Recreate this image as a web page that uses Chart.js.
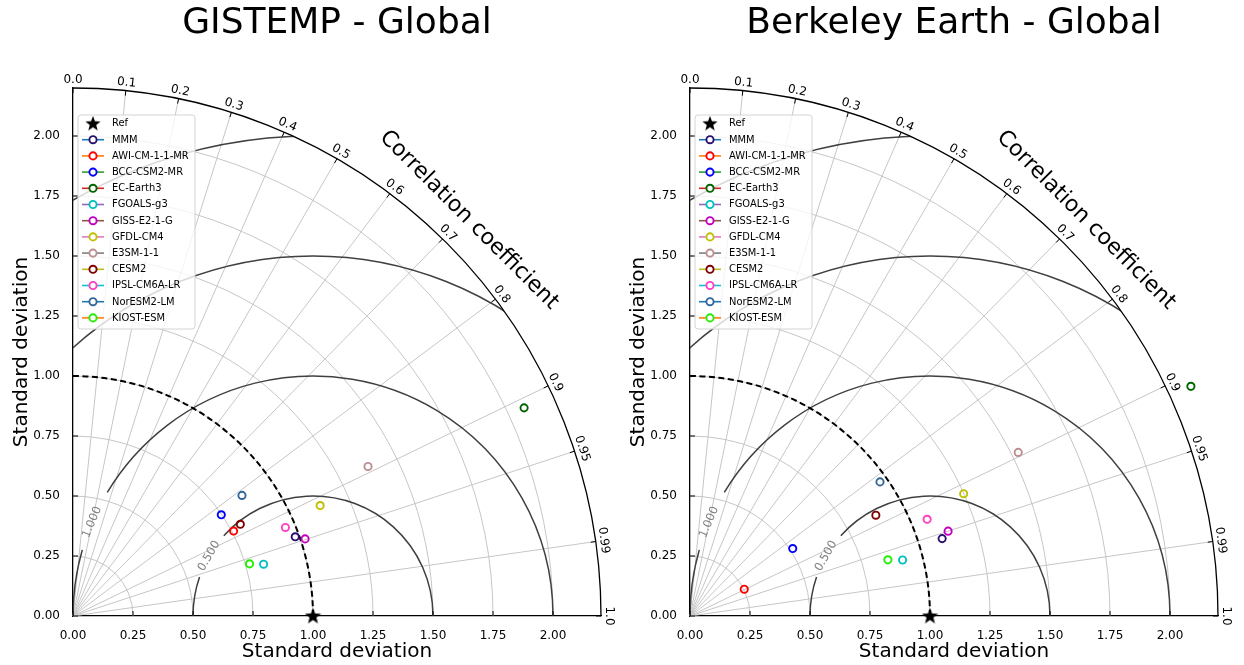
<!DOCTYPE html>
<html>
<head>
<meta charset="utf-8">
<script src="https://cdn.jsdelivr.net/npm/chart.js@4.4.1/dist/chart.umd.min.js"></script>
<style>
  html, body { margin: 0; padding: 0; background: #fff; }
  #wrap { position: relative; width: 1244px; height: 665px; overflow: hidden; }
  .panel { position: absolute; top: 0; height: 665px; }
</style>
</head>
<body>
<div id="wrap">
  <div class="panel" style="left:0;width:620px"><canvas id="gistempChart" width="620" height="665"></canvas></div>
  <div class="panel" style="left:617px;width:627px"><canvas id="berkeleyChart" width="627" height="665"></canvas></div>
</div>
<script>
// Taylor diagram data (std = normalised standard deviation, corr = correlation with obs)
const models = ['MMM', 'AWI-CM-1-1-MR', 'BCC-CSM2-MR', 'EC-Earth3', 'FGOALS-g3', 'GISS-E2-1-G',
                'GFDL-CM4', 'E3SM-1-1', 'CESM2', 'IPSL-CM6A-LR', 'NorESM2-LM', 'KIOST-ESM'];
const markerColors = ['#2a0f70', '#ff0000', '#0000ff', '#006400', '#00bfbf', '#c000c0',
                      '#bfbf00', '#bc8f8f', '#800000', '#ff40c0', '#336699', '#22ee00'];
const legendLineColors = ['#1f77b4', '#ff7f0e', '#2ca02c', '#d62728', '#9467bd', '#8c564b',
                          '#e377c2', '#7f7f7f', '#bcbd22', '#17becf', '#1f77b4', '#ff7f0e'];

const gistempStd  = [0.983, 0.757, 0.748, 2.070, 0.823, 1.019, 1.128, 1.378, 0.795, 0.959, 0.865, 0.767];
const gistempCorr = [0.942, 0.884, 0.826, 0.908, 0.965, 0.949, 0.913, 0.892, 0.877, 0.923, 0.814, 0.959];

const berkeleyStd  = [1.099, 0.252, 0.512, 2.296, 0.916, 1.132, 1.249, 1.528, 0.881, 1.067, 0.969, 0.857];
const berkeleyCorr = [0.956, 0.897, 0.836, 0.909, 0.967, 0.950, 0.913, 0.895, 0.879, 0.926, 0.817, 0.962];

const refStd = 1.0;
const stdMax = 2.2;
const stdTicks = [0, 0.25, 0.5, 0.75, 1.0, 1.25, 1.5, 1.75, 2.0];
const corrTicks = [0.0, 0.1, 0.2, 0.3, 0.4, 0.5, 0.6, 0.7, 0.8, 0.9, 0.95, 0.99, 1.0];
const corrTickLabels = ['0.0', '0.1', '0.2', '0.3', '0.4', '0.5', '0.6', '0.7', '0.8', '0.9', '0.95', '0.99', '1.0'];
const rmsLevels = [0.5, 1.0, 1.5, 2.0];
const rmsLabels = ['0.500', '1.000', '', ''];

// where the inline contour labels sit (angle around the ref point, degrees) and the gap they cut
const rmsLabelPlace = [
    { angle: 150, gap: [138, 161] },
    { angle: 157, gap: [149, 164] },
    null,
    null
];

const FONT = "'DejaVu Sans', 'Liberation Sans', Arial";

/**
 * Filled five point star used for the reference marker
 */
function makeStar(size) {
    const c = document.createElement('canvas');
    c.width = size; c.height = size;
    const g = c.getContext('2d');
    const r1 = size / 2, r2 = size / 2 * 0.42;
    g.beginPath();
    for (let i = 0; i < 10; i++) {
        const r = i % 2 === 0 ? r1 : r2;
        const a = -Math.PI / 2 + i * Math.PI / 5;
        const px = size / 2 + r * Math.cos(a);
        const py = size / 2 + 0.5 + r * Math.sin(a);
        if (i === 0) g.moveTo(px, py); else g.lineTo(px, py);
    }
    g.closePath();
    g.fillStyle = '#000';
    g.fill();
    return c;
}
const starImg = makeStar(17);
const starLegendImg = makeStar(16);

/**
 * Polar grid, RMS contours and correlation axis
 */
const taylorPlugin = {
    id: 'taylorGrid',
    beforeDatasetsDraw(chart) {
        const ctx = chart.ctx;
        const xs = chart.scales.x, ys = chart.scales.y;
        const ox = xs.getPixelForValue(0), oy = ys.getPixelForValue(0);
        const unit = xs.getPixelForValue(1) - ox;
        const R = stdMax * unit;
        const rad = d => d * Math.PI / 180;

        ctx.save();
        // std arcs
        ctx.strokeStyle = '#c6c6c6';
        ctx.lineWidth = 1;
        stdTicks.forEach(s => {
            if (s <= 0) return;
            ctx.beginPath();
            ctx.arc(ox, oy, s * unit, -Math.PI / 2, 0);
            ctx.stroke();
        });
        // correlation rays
        corrTicks.forEach(c => {
            if (c <= 0 || c >= 1) return;
            const a = Math.acos(c);
            ctx.beginPath();
            ctx.moveTo(ox, oy);
            ctx.lineTo(ox + R * Math.cos(a), oy - R * Math.sin(a));
            ctx.stroke();
        });

        // centred RMS difference contours, clipped to the quarter disc
        ctx.save();
        ctx.beginPath();
        ctx.moveTo(ox, oy);
        ctx.arc(ox, oy, R, -Math.PI / 2, 0);
        ctx.closePath();
        ctx.clip();
        const cx = xs.getPixelForValue(refStd);
        ctx.strokeStyle = '#404040';
        ctx.lineWidth = 1.5;
        rmsLevels.forEach((lv, i) => {
            const r = lv * unit;
            const place = rmsLabelPlace[i];
            ctx.beginPath();
            if (place) {
                ctx.arc(cx, oy, r, -rad(place.gap[0]), 0);
                ctx.moveTo(cx - r, oy);
                ctx.arc(cx, oy, r, -Math.PI, -rad(place.gap[1]));
            } else {
                ctx.arc(cx, oy, r, -Math.PI, 0);
            }
            ctx.stroke();
        });
        ctx.restore();

        // contour labels
        ctx.fillStyle = '#808080';
        ctx.font = '11.5px ' + FONT;
        ctx.textAlign = 'center';
        ctx.textBaseline = 'middle';
        rmsLevels.forEach((lv, i) => {
            const place = rmsLabelPlace[i];
            if (!place || !rmsLabels[i]) return;
            const a = rad(place.angle);
            const px = cx + lv * unit * Math.cos(a);
            const py = oy - lv * unit * Math.sin(a);
            ctx.save();
            ctx.translate(px, py);
            ctx.rotate(rad(90 - place.angle));
            ctx.fillText(rmsLabels[i], 0, 0);
            ctx.restore();
        });

        // reference std arc
        ctx.strokeStyle = '#000';
        ctx.lineWidth = 2;
        ctx.setLineDash([6, 3.5]);
        ctx.beginPath();
        ctx.arc(ox, oy, refStd * unit, -Math.PI / 2, 0);
        ctx.stroke();
        ctx.setLineDash([]);

        // outer correlation axis
        ctx.lineWidth = 1.3;
        ctx.beginPath();
        ctx.arc(ox, oy, R, -Math.PI / 2, 0);
        ctx.stroke();

        ctx.lineWidth = 1;
        corrTicks.forEach(c => {
            const a = Math.acos(c);
            ctx.beginPath();
            ctx.moveTo(ox + R * Math.cos(a), oy - R * Math.sin(a));
            ctx.lineTo(ox + (R - 5) * Math.cos(a), oy - (R - 5) * Math.sin(a));
            ctx.stroke();
        });
        ctx.fillStyle = '#000';
        ctx.font = '12px ' + FONT;
        corrTicks.forEach((c, i) => {
            const a = Math.acos(c);
            const rl = R + 8;
            ctx.save();
            ctx.translate(ox + rl * Math.cos(a), oy - rl * Math.sin(a));
            ctx.rotate(Math.PI / 2 - a);
            ctx.fillText(corrTickLabels[i], 0, 0);
            ctx.restore();
        });

        // axis title along the arc
        ctx.save();
        const at = rad(45), rt = 2.333 * unit;
        ctx.translate(ox + rt * Math.cos(at), oy - rt * Math.sin(at));
        ctx.rotate(Math.PI / 2 - at);
        ctx.font = '22px ' + FONT;
        ctx.fillText('Correlation coefficient', 0, 0);
        ctx.restore();

        // inward tick marks on the two straight axes
        ctx.strokeStyle = '#000';
        ctx.lineWidth = 1;
        stdTicks.forEach(s => {
            const px = xs.getPixelForValue(s), py = ys.getPixelForValue(s);
            ctx.beginPath();
            ctx.moveTo(px, oy); ctx.lineTo(px, oy - 5);
            ctx.moveTo(ox, py); ctx.lineTo(ox + 5, py);
            ctx.stroke();
        });
        ctx.restore();
    }
};

/**
 * Legend box in the upper left of the diagram (line + hollow marker handles)
 */
const legendPlugin = {
    id: 'taylorLegend',
    afterDraw(chart) {
        const ctx = chart.ctx;
        const area = chart.chartArea;
        const left = area.left + 5, top = area.top + 27;
        const w = 117, h = 214, rowH = 16.2;
        ctx.save();
        ctx.beginPath();
        ctx.roundRect(left, top, w, h, 3);
        ctx.fillStyle = 'rgba(255,255,255,0.8)';
        ctx.fill();
        ctx.strokeStyle = '#d4d4d4';
        ctx.lineWidth = 1;
        ctx.stroke();

        ctx.font = '11px ' + FONT;
        ctx.fontStretch = 'condensed';
        ctx.textAlign = 'left';
        ctx.textBaseline = 'middle';
        chart.data.datasets.forEach((ds, i) => {
            const y = top + 8.5 + i * rowH;
            const hx = left + 15;
            if (ds.legendLine) {
                ctx.strokeStyle = ds.legendLine;
                ctx.lineWidth = 1.6;
                ctx.beginPath();
                ctx.moveTo(hx - 11, y);
                ctx.lineTo(hx + 11, y);
                ctx.stroke();
                ctx.beginPath();
                ctx.arc(hx, y, 3.6, 0, Math.PI * 2);
                ctx.fillStyle = '#fff';
                ctx.fill();
                ctx.strokeStyle = ds.borderColor;
                ctx.lineWidth = 1.9;
                ctx.stroke();
            } else {
                ctx.drawImage(starLegendImg, hx - 8, y - 8);
            }
            ctx.fillStyle = '#000';
            ctx.fillText(ds.label, left + 34, y);
        });
        ctx.restore();
    }
};

function buildDatasets(stdArr, corrArr) {
    const sets = [{
        label: 'Ref',
        data: [{ x: refStd, y: 0 }],
        pointStyle: starImg,
        clip: false
    }];
    models.forEach((name, i) => {
        const s = stdArr[i], c = corrArr[i];
        sets.push({
            label: name,
            data: [{ x: s * c, y: s * Math.sqrt(1 - c * c) }],
            pointStyle: 'circle',
            pointRadius: 3.6,
            pointBorderWidth: 1.9,
            borderColor: markerColors[i],
            pointBorderColor: markerColors[i],
            backgroundColor: 'rgba(0,0,0,0)',
            pointBackgroundColor: 'rgba(0,0,0,0)',
            legendLine: legendLineColors[i],
            clip: false
        });
    });
    return sets;
}

function makeTaylor(canvasId, titleText, stdArr, corrArr, rightPad) {
    const axisCommon = {
        type: 'linear',
        min: 0,
        max: stdMax,
        grid: { display: false },
        border: { display: true, color: '#000', width: 1.3 },
        afterBuildTicks: function(scale) {
            scale.ticks = stdTicks.map(v => ({ value: v }));
        },
        ticks: {
            color: '#000',
            font: { family: FONT, size: 12 },
            callback: function(value) { return value.toFixed(2); }
        }
    };
    return new Chart(document.getElementById(canvasId).getContext('2d'), {
        type: 'scatter',
        data: { datasets: buildDatasets(stdArr, corrArr) },
        options: {
            responsive: false,
            animation: false,
            events: [],
            layout: { padding: { top: 0, right: rightPad, bottom: 0, left: 0 } },
            plugins: {
                legend: { display: false },
                tooltip: { enabled: false },
                title: {
                    display: true,
                    fullSize: false,
                    text: titleText,
                    color: '#000',
                    font: { family: FONT, size: 36, weight: 'normal' },
                    padding: { top: 2, bottom: 42.8 }
                }
            },
            scales: {
                x: Object.assign({}, axisCommon, {
                    position: 'bottom',
                    afterFit: function(scale) { scale.height = 49; },
                    ticks: Object.assign({}, axisCommon.ticks, { padding: 5, maxRotation: 0 }),
                    title: {
                        display: true,
                        text: 'Standard deviation',
                        color: '#000',
                        font: { family: FONT, size: 20 },
                        padding: { top: 0, bottom: 1 }
                    }
                }),
                y: Object.assign({}, axisCommon, {
                    position: 'left',
                    afterFit: function(scale) { scale.width = 73; },
                    ticks: Object.assign({}, axisCommon.ticks, { padding: 5 }),
                    title: {
                        display: true,
                        text: 'Standard deviation',
                        color: '#000',
                        font: { family: FONT, size: 20 },
                        padding: { top: 10, bottom: 0 }
                    }
                })
            }
        },
        plugins: [taylorPlugin, legendPlugin]
    });
}

makeTaylor('gistempChart', 'GISTEMP - Global', gistempStd, gistempCorr, 19);
makeTaylor('berkeleyChart', 'Berkeley Earth - Global', berkeleyStd, berkeleyCorr, 26);
</script>
</body>
</html>
